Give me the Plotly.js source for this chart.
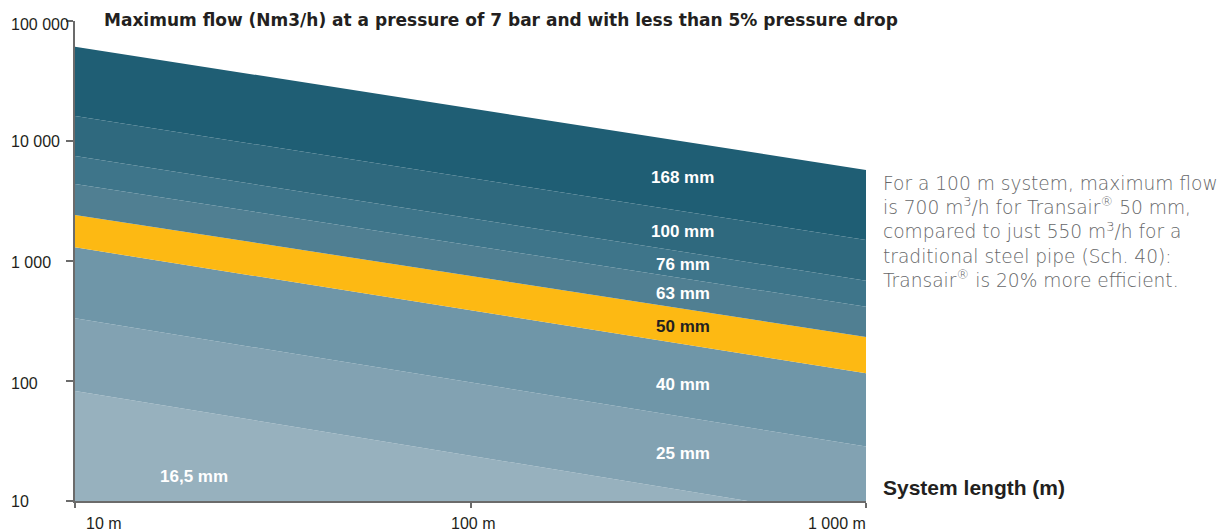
<!DOCTYPE html>
<html>
<head>
<meta charset="utf-8">
<script src="https://cdn.plot.ly/plotly-3.0.1.min.js"></script>
<style>html,body{margin:0;padding:0;background:#fff;}#chart{width:1225px;height:531px;}</style>
</head>
<body>
<div id="chart"></div>
<script>
// System length (m) end points
var lengths = [10, 1000];
// Upper boundary of each pipe-diameter band (Nm3/h) at 10 m and 1000 m
var pipeNames = ["16,5 mm", "25 mm", "40 mm", "50 mm", "63 mm", "76 mm", "100 mm", "168 mm"];
var flow_16_5 = [82.5, 6.9];
var flow_25 = [333, 28.4];
var flow_40 = [1300, 116];
var flow_50 = [2420, 233];
var flow_63 = [4380, 416];
var flow_76 = [7500, 685];
var flow_100 = [16150, 1496];
var flow_168 = [61100, 5730];
var baseline = [1, 1];
// Tick labels
var yTickVals = [10, 100, 1000, 10000, 100000];
var yTickText = ["10", "100", "1 000", "10 000", "100 000"];
var xTickVals = [10, 100, 1000];
var xTickText = ["10 m", "100 m", "1 000 m"];

var series = [flow_16_5, flow_25, flow_40, flow_50, flow_63, flow_76, flow_100, flow_168];
var colors = ["#97b1be", "#82a2b2", "#6f96a8", "#fdb913", "#507f92", "#3e758a", "#2f697e", "#1f5e74"];

var traces = [{
  x: lengths, y: baseline, mode: "lines", line: {width: 0, color: "rgba(0,0,0,0)"},
  hoverinfo: "skip", showlegend: false
}];
series.forEach(function (s, i) {
  traces.push({
    x: lengths, y: s, mode: "lines", name: pipeNames[i],
    line: {width: 0, color: colors[i]}, fill: "tonexty", fillcolor: colors[i],
    hoverinfo: "skip", showlegend: false
  });
});

// band label positions (log10 units)
var labelPos = [
  [1.301, 1.208], [2.537, 1.392], [2.537, 1.967], [2.537, 2.458],
  [2.537, 2.733], [2.537, 2.975], [2.537, 3.25], [2.537, 3.70]
];
var annotations = [];
pipeNames.forEach(function (n, i) {
  annotations.push({
    x: labelPos[i][0], y: labelPos[i][1], xref: "x", yref: "y", text: n, showarrow: false,
    xanchor: "center", yanchor: "middle",
    font: {family: "Liberation Sans, Arial, sans-serif", size: 17, weight: 700, color: i === 3 ? "#231f20" : "#ffffff"}
  });
});
// y tick labels (left aligned)
var yLabelOffset = [0.0, -0.02, -0.015, 0.0, -0.025];
yTickVals.forEach(function (v, i) {
  annotations.push({
    x: -66 / 791, xref: "paper", y: Math.log10(v) + yLabelOffset[i], yref: "y",
    text: yTickText[i], showarrow: false, xanchor: "left", yanchor: "middle",
    font: {family: "Liberation Sans, Arial, sans-serif", size: 16, color: "#231f20"}
  });
});
// x tick labels
var xAnch = ["left", "center", "right"];
var xShift = [9, 2, 2];
xTickVals.forEach(function (v, i) {
  annotations.push({
    x: Math.log10(v), xref: "x", y: -22 / 480, yref: "paper", xshift: xShift[i],
    text: xTickText[i], showarrow: false, xanchor: xAnch[i], yanchor: "middle",
    font: {family: "Liberation Sans, Arial, sans-serif", size: 16, color: "#231f20"}
  });
});
annotations.push({
  x: (881 - 75) / 791, xref: "paper", y: (501 - 487) / 480, yref: "paper",
  text: "System length (m)", showarrow: false, xanchor: "left", yanchor: "middle",
  font: {family: "Liberation Sans, Arial, sans-serif", size: 21, weight: 700, color: "#231f20"}
});
annotations.push({
  x: (881 - 75) / 791, xref: "paper", y: (501 - 171) / 480, yref: "paper",
  text: "For a 100 m system, maximum flow<br>is 700 m<sup>3</sup>/h for Transair<sup>®</sup> 50 mm,<br>compared to just 550 m<sup>3</sup>/h for a<br>traditional steel pipe (Sch. 40):<br>Transair<sup>®</sup> is 20% more efficient.",
  showarrow: false, xanchor: "left", yanchor: "top", align: "left",
  font: {family: "DejaVu Sans, sans-serif", size: 18.6, weight: 300, color: "#666769"}
});

var layout = {
  width: 1225, height: 531,
  margin: {l: 75, r: 359, t: 21, b: 30, pad: 0},
  paper_bgcolor: "#ffffff", plot_bgcolor: "#ffffff",
  title: {
    text: "Maximum flow (Nm3/h) at a pressure of 7 bar and with less than 5% pressure drop",
    xref: "paper", x: (104 - 75) / 791, xanchor: "left",
    yref: "container", y: 1 - 20 / 531, yanchor: "middle",
    font: {family: "DejaVu Sans, sans-serif", size: 17, weight: 700, color: "#231f20"}
  },
  xaxis: {
    type: "log", range: [1, 3], showgrid: false, zeroline: false,
    showline: true, linecolor: "#6b6b6b", linewidth: 2,
    ticks: "outside", ticklen: 5, tickwidth: 2, tickcolor: "#6b6b6b",
    tickvals: xTickVals, showticklabels: false
  },
  yaxis: {
    type: "log", range: [1, 5], showgrid: false, zeroline: false,
    showline: true, linecolor: "#6b6b6b", linewidth: 2,
    ticks: "outside", ticklen: 7, tickwidth: 2, tickcolor: "#6b6b6b",
    tickvals: yTickVals, showticklabels: false
  },
  annotations: annotations,
  showlegend: false
};

Plotly.newPlot("chart", traces, layout, {staticPlot: true, displayModeBar: false});
</script>
</body>
</html>
